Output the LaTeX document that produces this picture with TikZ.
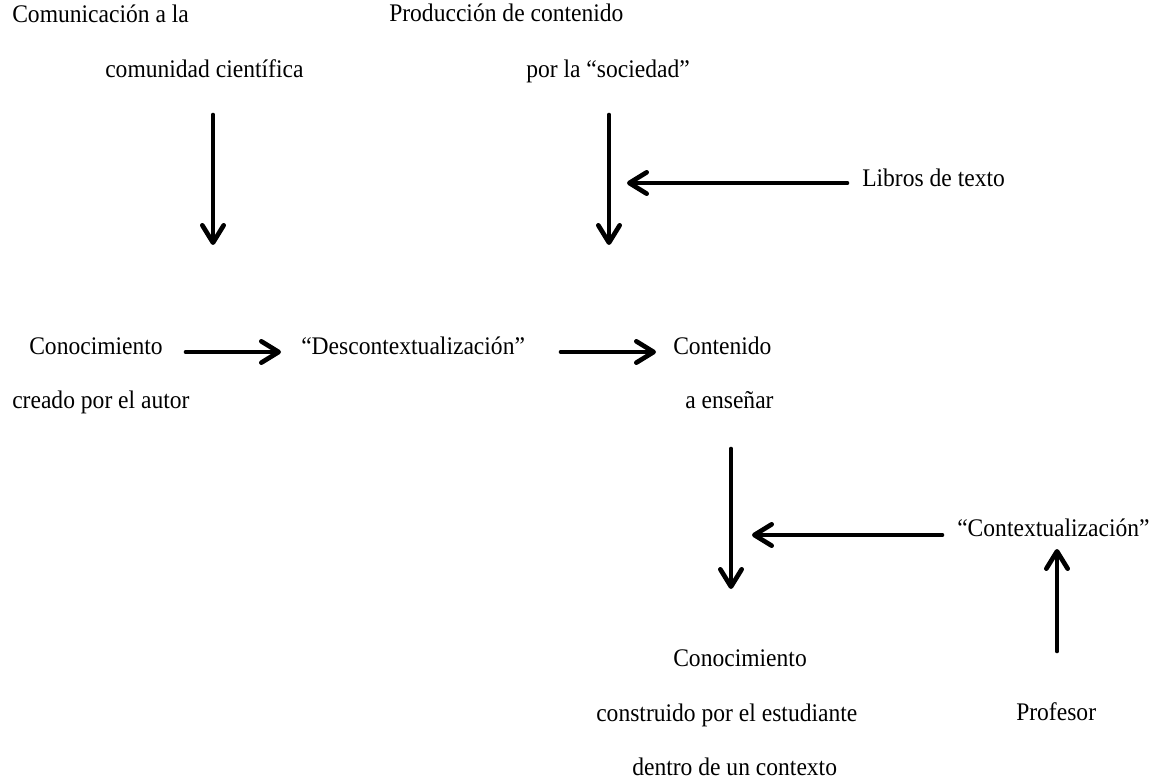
\documentclass[tikz,border=0pt]{standalone}
\usepackage{fontspec}
\setmainfont[FakeStretch=0.93]{Liberation Serif}
\usetikzlibrary{arrows.meta}

\tikzset{
	txt/.style={anchor=mid west, inner sep=0pt, font=\fontsize{19}{22}\selectfont},
	flecha/.style={line width=3.5pt, line cap=round, -{Straight Barb[length=13pt, width=16pt, round]}}
}

\begin{document}
\begin{tikzpicture}[x=0.75pt, y=-0.75pt]
	\useasboundingbox (0,0) rectangle (1154,784);

	% textos
	\node (com1) [txt] at (12,19) {Comunicación a la};
	\node (com2) [txt] at (105,74) {comunidad científica};
	\node (prod1) [txt] at (389,18) {Producción de contenido};
	\node (prod2) [txt] at (526,74) {por la “sociedad”};
	\node (libros) [txt] at (862,183) {Libros de texto};
	\node (conoc1) [txt] at (29,351) {Conocimiento};
	\node (conoc2) [txt] at (12,405) {creado por el autor};
	\node (descon) [txt] at (301,351) {“Descontextualización”};
	\node (cont1) [txt] at (673,351) {Contenido};
	\node (cont2) [txt] at (685,405) {a enseñar};
	\node (contex) [txt] at (957,533) {“Contextualización”};
	\node (est1) [txt] at (673,663) {Conocimiento};
	\node (est2) [txt] at (596,718) {construido por el estudiante};
	\node (est3) [txt] at (632,772) {dentro de un contexto};
	\node (prof) [txt] at (1016,717) {Profesor};

	% extremos de las flechas
	\coordinate (comA) at (213,115);
	\coordinate (comB) at (213,245);
	\coordinate (prodA) at (609,115);
	\coordinate (prodB) at (609,245);
	\coordinate (libA) at (847,183);
	\coordinate (libB) at (627,183);
	\coordinate (conA) at (186,352);
	\coordinate (conB) at (281,352);
	\coordinate (desA) at (561,352);
	\coordinate (desB) at (656,352);
	\coordinate (ensA) at (731,449);
	\coordinate (ensB) at (731,589);
	\coordinate (ctxA) at (942,535);
	\coordinate (ctxB) at (752,535);
	\coordinate (profA) at (1057,651);
	\coordinate (profB) at (1057,549);

	\draw [flecha] (comA) -- (comB);
	\draw [flecha] (prodA) -- (prodB);
	\draw [flecha] (libA) -- (libB);
	\draw [flecha] (conA) -- (conB);
	\draw [flecha] (desA) -- (desB);
	\draw [flecha] (ensA) -- (ensB);
	\draw [flecha] (ctxA) -- (ctxB);
	\draw [flecha] (profA) -- (profB);
\end{tikzpicture}
\end{document}
